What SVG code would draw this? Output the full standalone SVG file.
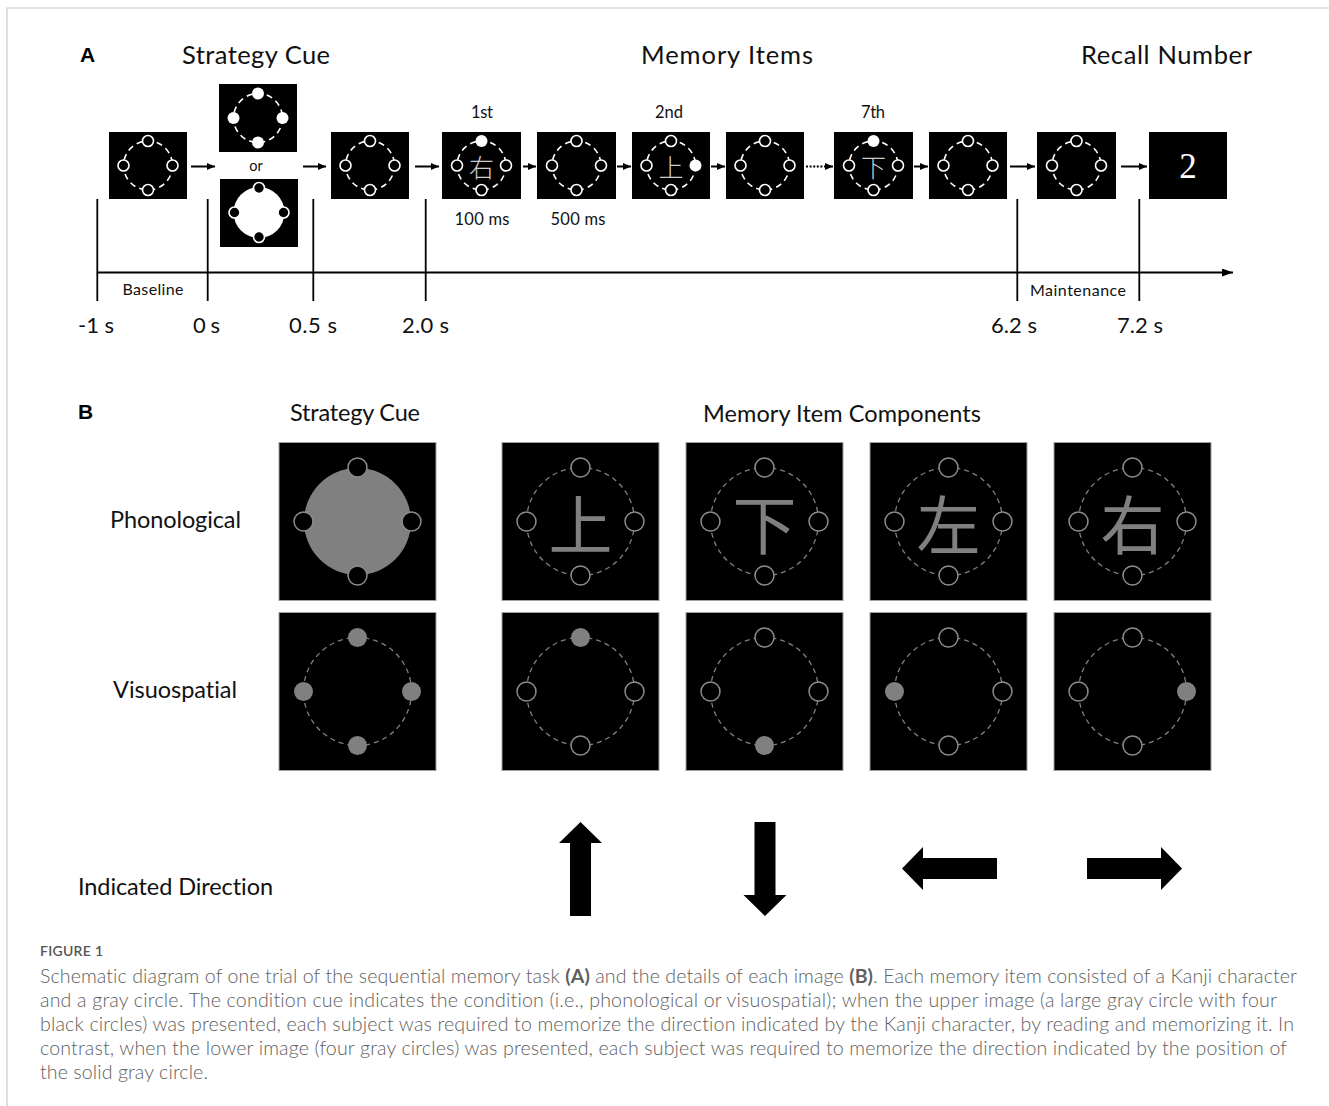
<svg xmlns="http://www.w3.org/2000/svg" xmlns:xlink="http://www.w3.org/1999/xlink" width="1329" height="1106" viewBox="0 0 1329 1106">
<style>
text{font-variant-ligatures:none;font-feature-settings:"liga" 0,"dlig" 0}
.lbl{font-family:Lato,"Open Sans","Liberation Sans",sans-serif;fill:#111}
.h1{font-size:25.5px}
.h2{font-size:23.5px}
.sm{font-size:16.5px}
.tm{font-size:22px}
.pl{font-family:Arial,"Liberation Sans",sans-serif;font-weight:bold;font-size:21px;fill:#000}
.kA{font-family:"Noto Sans CJK JP","Noto Sans CJK SC",sans-serif;font-weight:300;font-size:25px;fill:#cccccc}
.kB{font-family:"Noto Sans CJK JP","Noto Sans CJK SC",sans-serif;font-weight:400;font-size:64px;fill:#808080}
.boxA{fill:#000}
.boxB{fill:#000;stroke:#a0a0a0;stroke-width:1}
.cap{font-family:Lato,"Open Sans","Liberation Sans",sans-serif;font-weight:300;font-size:19.6px;fill:#606060}
.tl{stroke:#000;stroke-width:1.8;fill:none}
.ar{stroke:#000;stroke-width:2;fill:none}
</style>
<defs>
<marker id="ah" markerUnits="userSpaceOnUse" markerWidth="9" markerHeight="8" refX="8" refY="3.5" orient="auto"><path d="M0,0 L8,3.5 L0,7 z" fill="#000"/></marker>
<marker id="ahT" markerUnits="userSpaceOnUse" markerWidth="12" markerHeight="10" refX="11" refY="4" orient="auto"><path d="M0,0 L11,4 L0,8 z" fill="#000"/></marker>
<circle id="ringA" r="24.5" fill="none" stroke="#fff" stroke-width="1.6" stroke-dasharray="6 4.3"/>
<circle id="hA" r="5.5" fill="#000" stroke="#fff" stroke-width="1.6"/>
<circle id="fA" r="6" fill="#fff"/>
<g id="stimA"><use xlink:href="#ringA"/><use xlink:href="#hA" y="-24.5"/><use xlink:href="#hA" x="-24.5"/><use xlink:href="#hA" x="24.5"/><use xlink:href="#hA" y="24.5"/></g>
<circle id="ringB" r="54" fill="none" stroke="#808080" stroke-width="1.3" stroke-dasharray="5 4"/>
<circle id="hB" r="9.5" fill="#000" stroke="#8c8c8c" stroke-width="1.5"/>
<circle id="fB" r="9.5" fill="#808080"/>
</defs>
<rect width="1329" height="1106" fill="#fff"/>
<path d="M7,1106 V8 H1329" fill="none" stroke="#cccccc" stroke-width="1.2"/>

<!-- Panel A titles -->
<text class="pl" x="80" y="62">A</text>
<text class="lbl h1" x="256" y="64" text-anchor="middle" textLength="148" lengthAdjust="spacing">Strategy Cue</text>
<text class="lbl h1" x="727" y="64" text-anchor="middle" textLength="172" lengthAdjust="spacing">Memory Items</text>
<text class="lbl h1" x="1166.5" y="64" text-anchor="middle" textLength="171" lengthAdjust="spacing">Recall Number</text>

<!-- Panel A stimuli -->
<g id="a-fix1"><rect class="boxA" x="109" y="132" width="78" height="67"/><use xlink:href="#stimA" x="148" y="165.5"/></g>
<g id="a-cue-top"><rect class="boxA" x="219" y="84" width="78" height="68"/>
<use xlink:href="#ringA" x="258" y="118"/>
<use xlink:href="#fA" x="258" y="93.5"/><use xlink:href="#fA" x="233.5" y="118"/><use xlink:href="#fA" x="282.5" y="118"/><use xlink:href="#fA" x="258" y="142.5"/></g>
<text class="lbl" x="256" y="171" font-size="14.5" text-anchor="middle">or</text>
<g id="a-cue-bottom"><rect class="boxA" x="220" y="179" width="78" height="68"/>
<circle cx="259" cy="212.5" r="25.5" fill="#fff"/>
<g stroke="#fff" stroke-width="1.6" fill="#000"><circle cx="259" cy="188" r="5.5"/><circle cx="234.5" cy="212.5" r="5.5"/><circle cx="283.5" cy="212.5" r="5.5"/><circle cx="259" cy="237" r="5.5"/></g></g>
<g id="a-fix2"><rect class="boxA" x="331" y="132" width="78" height="67"/><use xlink:href="#stimA" x="370" y="165.5"/></g>
<g id="a-item1"><rect class="boxA" x="442" y="132" width="79" height="67"/>
<use xlink:href="#ringA" x="481.5" y="165.5"/>
<use xlink:href="#fA" x="481.5" y="141"/><use xlink:href="#hA" x="457" y="165.5"/><use xlink:href="#hA" x="506" y="165.5"/><use xlink:href="#hA" x="481.5" y="190"/>
<text class="kA" x="481.5" y="166" text-anchor="middle" dominant-baseline="central">右</text></g>
<text class="lbl sm" x="482" y="118" text-anchor="middle" textLength="22" lengthAdjust="spacing">1st</text>
<text class="lbl sm" x="482" y="225" text-anchor="middle" textLength="55" lengthAdjust="spacing">100 ms</text>
<g id="a-isi1"><rect class="boxA" x="537" y="132" width="79" height="67"/><use xlink:href="#stimA" x="576.5" y="165.5"/></g>
<text class="lbl sm" x="578" y="225" text-anchor="middle" textLength="55" lengthAdjust="spacing">500 ms</text>
<g id="a-item2"><rect class="boxA" x="632" y="132" width="78" height="67"/>
<use xlink:href="#ringA" x="671" y="165.5"/>
<use xlink:href="#hA" x="671" y="141"/><use xlink:href="#hA" x="646.5" y="165.5"/><use xlink:href="#fA" x="695.5" y="165.5"/><use xlink:href="#hA" x="671" y="190"/>
<text class="kA" x="671" y="166" text-anchor="middle" dominant-baseline="central">上</text></g>
<text class="lbl sm" x="669" y="118" text-anchor="middle" textLength="28" lengthAdjust="spacing">2nd</text>
<g id="a-isi2"><rect class="boxA" x="726" y="132" width="78" height="67"/><use xlink:href="#stimA" x="765" y="165.5"/></g>
<g id="a-item7"><rect class="boxA" x="834" y="132" width="79" height="67"/>
<use xlink:href="#ringA" x="873.5" y="165.5"/>
<use xlink:href="#fA" x="873.5" y="141"/><use xlink:href="#hA" x="849" y="165.5"/><use xlink:href="#hA" x="898" y="165.5"/><use xlink:href="#hA" x="873.5" y="190"/>
<text class="kA" x="873.5" y="166" text-anchor="middle" dominant-baseline="central">下</text></g>
<text class="lbl sm" x="873" y="118" text-anchor="middle" textLength="24" lengthAdjust="spacing">7th</text>
<g id="a-isi7"><rect class="boxA" x="929" y="132" width="78" height="67"/><use xlink:href="#stimA" x="968" y="165.5"/></g>
<g id="a-maint"><rect class="boxA" x="1037" y="132" width="79" height="67"/><use xlink:href="#stimA" x="1076.5" y="165.5"/></g>
<g id="a-recall"><rect class="boxA" x="1149" y="132" width="78" height="67"/>
<text x="1188" y="178" font-family="'Liberation Serif','DejaVu Serif',serif" font-size="35" fill="#fff" text-anchor="middle">2</text></g>

<!-- Panel A connectors and timeline -->
<g id="connectors">
<line class="ar" x1="191" y1="166.5" x2="215" y2="166.5" marker-end="url(#ah)"/>
<line class="ar" x1="303" y1="166.5" x2="326" y2="166.5" marker-end="url(#ah)"/>
<line class="ar" x1="415" y1="166.5" x2="439" y2="166.5" marker-end="url(#ah)"/>
<line class="ar" x1="523" y1="166.5" x2="536" y2="166.5" marker-end="url(#ah)"/>
<line class="ar" x1="617" y1="166.5" x2="631" y2="166.5" marker-end="url(#ah)"/>
<line class="ar" x1="711" y1="166.5" x2="725" y2="166.5" marker-end="url(#ah)"/>
<line x1="806" y1="166.5" x2="826" y2="166.5" stroke="#000" stroke-width="2" stroke-dasharray="2 1.6"/>
<line x1="826" y1="166.5" x2="833" y2="166.5" stroke="#000" stroke-width="2" marker-end="url(#ah)"/>
<line class="ar" x1="914" y1="166.5" x2="928" y2="166.5" marker-end="url(#ah)"/>
<line class="ar" x1="1010" y1="166.5" x2="1035" y2="166.5" marker-end="url(#ah)"/>
<line class="ar" x1="1121" y1="166.5" x2="1147" y2="166.5" marker-end="url(#ah)"/>
<line class="tl" x1="97" y1="272.5" x2="1233" y2="272.5" marker-end="url(#ahT)"/>
<line class="tl" x1="97.3" y1="199" x2="97.3" y2="301"/>
<line class="tl" x1="207.7" y1="199" x2="207.7" y2="301"/>
<line class="tl" x1="313.3" y1="199" x2="313.3" y2="301"/>
<line class="tl" x1="425.7" y1="199" x2="425.7" y2="301"/>
<line class="tl" x1="1017.3" y1="199" x2="1017.3" y2="301"/>
<line class="tl" x1="1139.3" y1="199" x2="1139.3" y2="301"/>
</g>
<text class="lbl" x="153" y="294.5" font-size="16" fill="#333" text-anchor="middle" textLength="61" lengthAdjust="spacing">Baseline</text>
<text class="lbl" x="1078" y="295.5" font-size="16" fill="#333" text-anchor="middle" textLength="96" lengthAdjust="spacing">Maintenance</text>
<text class="lbl tm" x="96" y="333" text-anchor="middle" textLength="36" lengthAdjust="spacing">-1 s</text>
<text class="lbl tm" x="206.5" y="333" text-anchor="middle" textLength="27" lengthAdjust="spacing">0 s</text>
<text class="lbl tm" x="313" y="333" text-anchor="middle" textLength="48" lengthAdjust="spacing">0.5 s</text>
<text class="lbl tm" x="425.5" y="333" text-anchor="middle" textLength="47" lengthAdjust="spacing">2.0 s</text>
<text class="lbl tm" x="1014" y="333" text-anchor="middle" textLength="46" lengthAdjust="spacing">6.2 s</text>
<text class="lbl tm" x="1140" y="333" text-anchor="middle" textLength="46" lengthAdjust="spacing">7.2 s</text>

<!-- Panel B -->
<text class="pl" x="78" y="419">B</text>
<text class="lbl h2" x="355" y="421" text-anchor="middle" textLength="130" lengthAdjust="spacing">Strategy Cue</text>
<text class="lbl h2" x="842" y="422" text-anchor="middle" textLength="278" lengthAdjust="spacing">Memory Item Components</text>
<text class="lbl h2" x="175.5" y="528" text-anchor="middle" textLength="131" lengthAdjust="spacing">Phonological</text>
<text class="lbl h2" x="175" y="698" text-anchor="middle" textLength="124" lengthAdjust="spacing">Visuospatial</text>
<text class="lbl h2" x="175.5" y="895" text-anchor="middle" textLength="195" lengthAdjust="spacing">Indicated Direction</text>

<g id="b-cue-phon"><rect class="boxB" x="279" y="442.5" width="157" height="158"/>
<circle cx="357.5" cy="521.5" r="53.5" fill="#808080"/>
<use xlink:href="#hB" x="357.5" y="467.5"/><use xlink:href="#hB" x="303.5" y="521.5"/><use xlink:href="#hB" x="411.5" y="521.5"/><use xlink:href="#hB" x="357.5" y="575.5"/></g>
<g id="b-cue-vis"><rect class="boxB" x="279" y="612.5" width="157" height="158"/>
<use xlink:href="#ringB" x="357.5" y="691.5"/>
<use xlink:href="#fB" x="357.5" y="637.5"/><use xlink:href="#fB" x="303.5" y="691.5"/><use xlink:href="#fB" x="411.5" y="691.5"/><use xlink:href="#fB" x="357.5" y="745.5"/></g>

<g id="b-phon-up"><rect class="boxB" x="502" y="442.5" width="157" height="158"/>
<use xlink:href="#ringB" x="580.5" y="521.5"/>
<use xlink:href="#hB" x="580.5" y="467.5"/><use xlink:href="#hB" x="526.5" y="521.5"/><use xlink:href="#hB" x="634.5" y="521.5"/><use xlink:href="#hB" x="580.5" y="575.5"/>
<text class="kB" x="580.5" y="521" text-anchor="middle" dominant-baseline="central">上</text></g>
<g id="b-phon-down"><rect class="boxB" x="686" y="442.5" width="157" height="158"/>
<use xlink:href="#ringB" x="764.5" y="521.5"/>
<use xlink:href="#hB" x="764.5" y="467.5"/><use xlink:href="#hB" x="710.5" y="521.5"/><use xlink:href="#hB" x="818.5" y="521.5"/><use xlink:href="#hB" x="764.5" y="575.5"/>
<text class="kB" x="764.5" y="521" text-anchor="middle" dominant-baseline="central">下</text></g>
<g id="b-phon-left"><rect class="boxB" x="870" y="442.5" width="157" height="158"/>
<use xlink:href="#ringB" x="948.5" y="521.5"/>
<use xlink:href="#hB" x="948.5" y="467.5"/><use xlink:href="#hB" x="894.5" y="521.5"/><use xlink:href="#hB" x="1002.5" y="521.5"/><use xlink:href="#hB" x="948.5" y="575.5"/>
<text class="kB" x="948.5" y="521" text-anchor="middle" dominant-baseline="central">左</text></g>
<g id="b-phon-right"><rect class="boxB" x="1054" y="442.5" width="157" height="158"/>
<use xlink:href="#ringB" x="1132.5" y="521.5"/>
<use xlink:href="#hB" x="1132.5" y="467.5"/><use xlink:href="#hB" x="1078.5" y="521.5"/><use xlink:href="#hB" x="1186.5" y="521.5"/><use xlink:href="#hB" x="1132.5" y="575.5"/>
<text class="kB" x="1132.5" y="521" text-anchor="middle" dominant-baseline="central">右</text></g>

<g id="b-vis-up"><rect class="boxB" x="502" y="612.5" width="157" height="158"/>
<use xlink:href="#ringB" x="580.5" y="691.5"/>
<use xlink:href="#fB" x="580.5" y="637.5"/><use xlink:href="#hB" x="526.5" y="691.5"/><use xlink:href="#hB" x="634.5" y="691.5"/><use xlink:href="#hB" x="580.5" y="745.5"/></g>
<g id="b-vis-down"><rect class="boxB" x="686" y="612.5" width="157" height="158"/>
<use xlink:href="#ringB" x="764.5" y="691.5"/>
<use xlink:href="#hB" x="764.5" y="637.5"/><use xlink:href="#hB" x="710.5" y="691.5"/><use xlink:href="#hB" x="818.5" y="691.5"/><use xlink:href="#fB" x="764.5" y="745.5"/></g>
<g id="b-vis-left"><rect class="boxB" x="870" y="612.5" width="157" height="158"/>
<use xlink:href="#ringB" x="948.5" y="691.5"/>
<use xlink:href="#hB" x="948.5" y="637.5"/><use xlink:href="#fB" x="894.5" y="691.5"/><use xlink:href="#hB" x="1002.5" y="691.5"/><use xlink:href="#hB" x="948.5" y="745.5"/></g>
<g id="b-vis-right"><rect class="boxB" x="1054" y="612.5" width="157" height="158"/>
<use xlink:href="#ringB" x="1132.5" y="691.5"/>
<use xlink:href="#hB" x="1132.5" y="637.5"/><use xlink:href="#hB" x="1078.5" y="691.5"/><use xlink:href="#fB" x="1186.5" y="691.5"/><use xlink:href="#hB" x="1132.5" y="745.5"/></g>

<g id="b-arrows" fill="#000">
<path d="M580.5,822 L602,843 L591,843 L591,916 L570,916 L570,843 L559,843 Z"/>
<path d="M765,916 L786.5,895 L775.5,895 L775.5,822 L754.5,822 L754.5,895 L743.5,895 Z"/>
<path d="M902,868.5 L923,847 L923,858 L997,858 L997,879 L923,879 L923,890 Z"/>
<path d="M1182,868.5 L1161,847 L1161,858 L1087,858 L1087,879 L1161,879 L1161,890 Z"/>
</g>

<!-- Caption -->
<text x="40" y="956" font-family="Lato,'Open Sans','Liberation Sans',sans-serif" font-size="14" font-weight="600" fill="#555" textLength="63" lengthAdjust="spacing">FIGURE 1</text>
<text class="cap" x="40" y="983" textLength="1257" lengthAdjust="spacing">Schematic diagram of one trial of the sequential memory task <tspan font-weight="700">(A)</tspan> and the details of each image <tspan font-weight="700">(B)</tspan>. Each memory item consisted of a Kanji character</text>
<text class="cap" x="40" y="1007" textLength="1237" lengthAdjust="spacing">and a gray circle. The condition cue indicates the condition (i.e., phonological or visuospatial); when the upper image (a large gray circle with four</text>
<text class="cap" x="40" y="1031" textLength="1254" lengthAdjust="spacing">black circles) was presented, each subject was required to memorize the direction indicated by the Kanji character, by reading and memorizing it. In</text>
<text class="cap" x="40" y="1055" textLength="1247" lengthAdjust="spacing">contrast, when the lower image (four gray circles) was presented, each subject was required to memorize the direction indicated by the position of</text>
<text class="cap" x="40" y="1079" textLength="168" lengthAdjust="spacing">the solid gray circle.</text>
</svg>
